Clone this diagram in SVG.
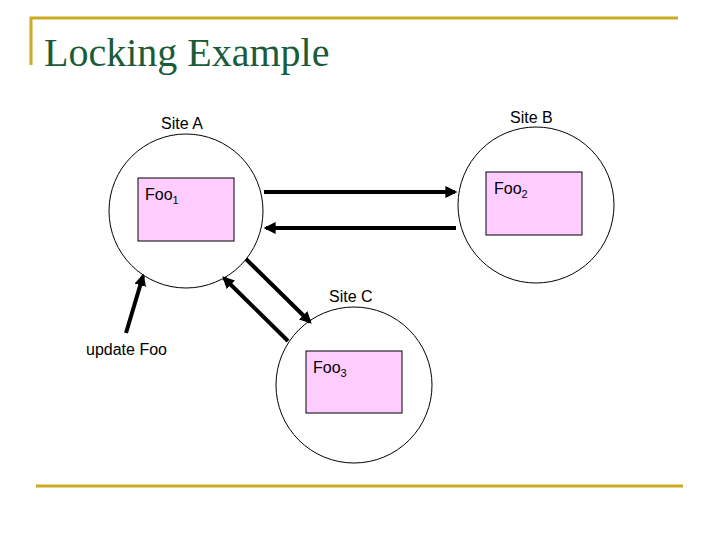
<svg xmlns="http://www.w3.org/2000/svg" width="720" height="540" viewBox="0 0 720 540">
<style>
.c{fill:#fff;stroke:#000;stroke-width:1}
.b{fill:#ffccff;stroke:#000;stroke-width:1}
.t{font-family:"Liberation Sans",Arial,sans-serif;font-size:16px;fill:#000}
.s{font-size:11px}
.a{stroke:#000;stroke-width:4;fill:none;marker-end:url(#ah)}
.g{stroke:#ccaa22;stroke-width:3;fill:none}
</style>
<defs><marker id="ah" viewBox="0 0 10 10" refX="8" refY="5" markerWidth="3" markerHeight="3" orient="auto"><path d="M0,0L10,5L0,10z" fill="#000"/></marker></defs>
<rect width="720" height="540" fill="#fff"/>
<path class="g" d="M31,65V18H678"/>
<path class="g" d="M36,486H683"/>
<text x="44" y="66" font-family="Liberation Serif,serif" font-size="40" fill="#1a5c3a">Locking Example</text>
<g id="siteA"><circle class="c" cx="186" cy="211" r="77"/><rect class="b" x="138" y="178" width="96" height="63"/><text class="t" x="145" y="200">Foo<tspan class="s" dy="4">1</tspan></text><text class="t" x="161" y="129">Site A</text></g>
<g id="siteB"><circle class="c" cx="536" cy="205" r="78"/><rect class="b" x="486" y="172" width="96" height="63"/><text class="t" x="494" y="194">Foo<tspan class="s" dy="4">2</tspan></text><text class="t" x="510" y="123">Site B</text></g>
<g id="siteC"><circle class="c" cx="354" cy="385" r="78"/><rect class="b" x="306" y="351" width="96" height="62"/><text class="t" x="313" y="373">Foo<tspan class="s" dy="4">3</tspan></text><text class="t" x="329" y="302">Site C</text></g>
<g id="update"><text class="t" x="86" y="355">update Foo</text></g>
<g id="connectors">
<line class="a" x1="264" y1="192" x2="455" y2="192"/>
<line class="a" x1="456" y1="228" x2="266" y2="228"/>
<line class="a" x1="246" y1="259" x2="310" y2="322"/>
<line class="a" x1="288" y1="341" x2="224" y2="278"/>
<line class="a" x1="126" y1="333" x2="143" y2="276"/>
</g>
</svg>
